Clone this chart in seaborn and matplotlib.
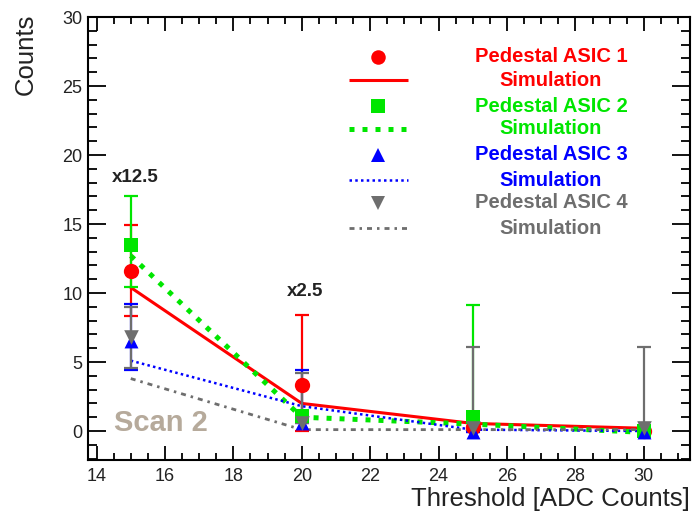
import numpy as np
import pandas as pd
import matplotlib
matplotlib.use("Agg")
import matplotlib.pyplot as plt
from matplotlib.lines import Line2D
from matplotlib.ticker import MultipleLocator
import seaborn as sns

# Measured pedestal counts per threshold, with asymmetric errors
thresholds = [15, 20, 25, 30]

asic1 = [11.6, 3.3, 0.3, 0.0]
asic1_lo = [3.3, 3.3, 0.0, 0.0]
asic1_hi = [3.3, 5.1, 0.0, 0.0]

asic2 = [13.5, 1.1, 1.0, 0.0]
asic2_lo = [3.1, 0.0, 0.0, 0.0]
asic2_hi = [3.5, 0.0, 8.1, 0.0]

asic3 = [6.5, 0.6, -0.1, -0.1]
asic3_lo = [2.1, 0.0, 0.0, 0.0]
asic3_hi = [2.7, 3.8, 0.0, 0.0]

asic4 = [6.8, 0.6, 0.2, 0.2]
asic4_lo = [2.2, 0.0, 0.0, 0.0]
asic4_hi = [2.2, 3.6, 5.9, 5.9]

# Simulated expectations
sim1 = [10.4, 2.0, 0.55, 0.2]
sim2 = [12.7, 1.0, 0.5, -0.1]
sim3 = [5.1, 1.8, 0.1, 0.0]
sim4 = [3.8, 0.1, 0.1, 0.1]

series_names = ["Pedestal ASIC 1", "Pedestal ASIC 2", "Pedestal ASIC 3", "Pedestal ASIC 4"]
colors = ["#ff0000", "#00e600", "#0000ff", "#6e6e6e"]
markers = ["o", "s", "^", "v"]
msizes = [11, 10.5, 10, 10.5]

sns.set_theme(style="ticks")
plt.rcParams["font.family"] = ["Liberation Sans", "DejaVu Sans"]

fig = plt.figure(figsize=(6.97, 5.12), dpi=100)
ax = fig.add_axes([88 / 697, 52 / 512, 602 / 697, 443 / 512])

# Simulation curves
sim_df = pd.DataFrame({
    "threshold": thresholds * 4,
    "counts": sim1 + sim2 + sim3 + sim4,
    "series": sum([[n] * 4 for n in ["s1", "s2", "s3", "s4"]], []),
})
line_styles = [
    dict(lw=2.2, dashes=()),
    dict(lw=3.6, dashes=(1.0, 1.6)),
    dict(lw=1.8, dashes=(1.0, 1.3)),
    dict(lw=2.0, dashes=(1.8, 1.8, 0.9, 1.8)),
]
for key, col, ls in zip(["s1", "s2", "s3", "s4"], colors, line_styles):
    sub = sim_df[sim_df["series"] == key]
    sns.lineplot(data=sub, x="threshold", y="counts", ax=ax, legend=False,
                 color=col, linewidth=ls["lw"], zorder=3)
    if ls["dashes"]:
        ax.lines[-1].set_dashes(ls["dashes"])
    ax.lines[-1].set_dash_capstyle("butt")

# Measured points with error bars
meas = [(asic1, asic1_lo, asic1_hi), (asic2, asic2_lo, asic2_hi),
        (asic3, asic3_lo, asic3_hi), (asic4, asic4_lo, asic4_hi)]
for (vals, lo, hi), col, mk, ms in zip(meas, colors, markers, msizes):
    ax.errorbar(thresholds, vals, yerr=[lo, hi], fmt="none", ecolor=col,
                elinewidth=1.6, capsize=5, capthick=1.6, zorder=4)
    pts = pd.DataFrame({"threshold": thresholds, "counts": vals})
    sns.scatterplot(data=pts, x="threshold", y="counts", ax=ax, color=col,
                    marker=mk, s=ms ** 2, linewidth=0, zorder=5, legend=False)

# Axes styling
ax.set_xlim(13.75, 31.35)
ax.set_ylim(-2.1, 30)
ax.xaxis.set_major_locator(MultipleLocator(2))
ax.xaxis.set_minor_locator(MultipleLocator(0.5))
ax.yaxis.set_major_locator(MultipleLocator(5))
ax.yaxis.set_minor_locator(MultipleLocator(1))
ax.set_xlabel("")
ax.set_ylabel("")
for sp in ax.spines.values():
    sp.set_visible(True)
    sp.set_color("black")
    sp.set_linewidth(1.5)
ax.tick_params(axis="both", which="both", direction="in", top=True,
               right=True, bottom=True, left=True, color="black",
               labelcolor="#222222", labelsize=13, width=1.3)
ax.tick_params(axis="x", which="major", length=10, pad=6)
ax.tick_params(axis="x", which="minor", length=5)
ax.tick_params(axis="y", which="major", length=13, pad=4)
ax.tick_params(axis="y", which="minor", length=6.5)

fig.text(690 / 697, 1 - 499 / 512, "Threshold [ADC Counts]", ha="right",
         va="center", fontsize=18.5, color="#222222")
fig.text(26 / 697, 1 - 14 / 512, "Counts", ha="center", va="top",
         rotation=90, fontsize=18.5, color="#222222")

# Scale annotations
ax.text(14.45, 18.4, "x12.5", fontsize=13.5, fontweight="bold", va="center",
        color="#222222")
ax.text(19.55, 10.1, "x2.5", fontsize=13.5, fontweight="bold", va="center",
        color="#222222")
ax.text(14.5, 0.6, "Scan 2", fontsize=21, fontweight="bold",
        color="#b6aa9b", va="center")

# Legend block
leg_rows = [57, 80, 106, 129, 155, 180, 203, 228]
x_sym = 378
x_txt = 551
for i, (name, col, mk, ms, ls) in enumerate(zip(series_names, colors, markers,
                                               msizes, line_styles)):
    y_m = 1 - leg_rows[2 * i] / 512
    y_l = 1 - leg_rows[2 * i + 1] / 512
    fig.add_artist(Line2D([x_sym / 697], [y_m], marker=mk, color=col,
                          markersize=ms * 0.95, linestyle="none",
                          markeredgewidth=0, transform=fig.transFigure))
    ln = Line2D([349 / 697, 408 / 697], [y_l, y_l], color=col,
                linewidth=ls["lw"], transform=fig.transFigure,
                solid_capstyle="butt", dash_capstyle="butt")
    if ls["dashes"]:
        ln.set_dashes(ls["dashes"])
    fig.add_artist(ln)
    fig.text(x_txt / 697, y_m, name, color=col, fontsize=14.5,
             fontweight="bold", ha="center", va="center")
    fig.text(x_txt / 697, y_l, "Simulation", color=col, fontsize=14.5,
             fontweight="bold", ha="center", va="center")

fig.savefig("out.png", dpi=100, facecolor="white")
